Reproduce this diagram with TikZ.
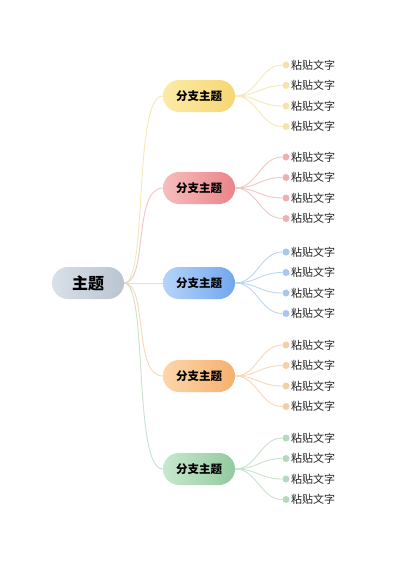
\documentclass[tikz,border=0pt]{standalone}
\usepackage{fontspec}
\newfontfamily\cjk{Noto Sans CJK SC}
\usetikzlibrary{positioning}
% colours of the five branches
\definecolor{rootL}{HTML}{D8E0E8}
\definecolor{rootR}{HTML}{B9C5D1}
\definecolor{yelL}{HTML}{FCEBA6}
\definecolor{yelR}{HTML}{F7D674}
\definecolor{yelE}{HTML}{F6E8B8}
\definecolor{yelD}{HTML}{F6E3A8}
\definecolor{redL}{HTML}{F7BDBD}
\definecolor{redR}{HTML}{EB8489}
\definecolor{redE}{HTML}{F3C6C6}
\definecolor{redD}{HTML}{EFB0B3}
\definecolor{bluL}{HTML}{B6D4F8}
\definecolor{bluR}{HTML}{72A6EF}
\definecolor{bluE}{HTML}{BED6F5}
\definecolor{bluD}{HTML}{A9C6F0}
\definecolor{orgL}{HTML}{FCD6AA}
\definecolor{orgR}{HTML}{F5B06E}
\definecolor{orgE}{HTML}{F6D9B8}
\definecolor{orgD}{HTML}{F3CFA6}
\definecolor{grnL}{HTML}{C8E8CE}
\definecolor{grnR}{HTML}{92CA9F}
\definecolor{grnE}{HTML}{C8E3CD}
\definecolor{grnD}{HTML}{B5D9BD}
\tikzset{
  every node/.style={font=\cjk},
  rootbox/.style={rounded corners=16pt,minimum width=72pt,minimum height=32pt,
    inner sep=0pt,font=\cjk\bfseries\fontsize{16}{18}\selectfont},
  branch/.style={rounded corners=16pt,minimum width=72pt,minimum height=32pt,
    inner sep=0pt,font=\cjk\bfseries\fontsize{11.5}{13}\selectfont},
  leaf/.style={anchor=west,inner sep=0pt,text=black!85,font=\cjk\fontsize{11}{13}\selectfont},
  dot/.style={circle,inner sep=0pt,minimum size=7pt},
  link/.style={line width=0.9pt}
}
\begin{document}
\begin{tikzpicture}[x=1pt,y=1pt]
\useasboundingbox[fill=white] (0,0) rectangle (400,-565);
% main topic
\node[rootbox,left color=rootL,right color=rootR] (root) at (88,-283) {主题};
% branches and their leaves
\foreach \i/\y/\col in {1/96/yel,2/188/red,3/283/blu,4/376/org,5/469/grn}{
  \node[branch,left color=\col L,right color=\col R] (b\i) at (199,-\y) {分支主题};
  \draw[link,\col E] (root.east) .. controls +(24,0) and +(-30,0) .. (b\i.west);
  \foreach \j/\dy in {1/31,2/10.5,3/-10,4/-30.5}{
    \node[dot,fill=\col D] (d\i\j) at (286,-\y+\dy) {};
    \node[leaf] (l\i\j) at (291,-\y+\dy) {粘贴文字};
    \draw[link,\col E] (b\i.east) .. controls +(22,0) and +(-22,0) .. (d\i\j.west);
  }
}
\end{tikzpicture}
\end{document}
